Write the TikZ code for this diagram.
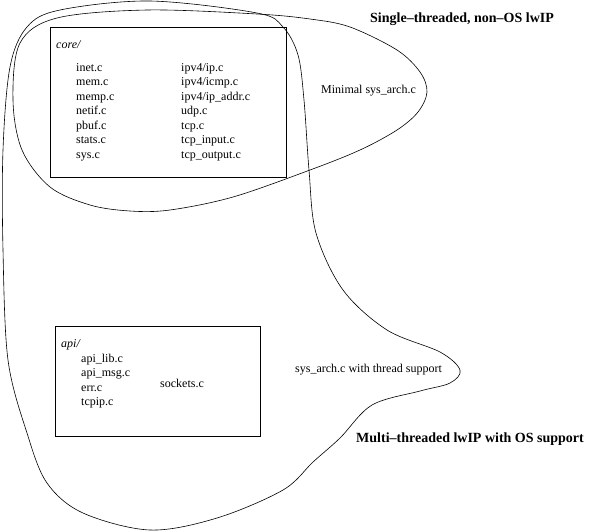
\documentclass[tikz,border=0pt]{standalone}
\usepackage{fontspec}
\setmainfont{Liberation Serif}
\begin{document}
\begin{tikzpicture}[x=1pt,y=-1pt,
  lbl/.style={inner sep=0pt,anchor=base west,font=\fontsize{12}{14}\selectfont},
  ttl/.style={inner sep=0pt,anchor=base west,font=\fontsize{14}{16}\selectfont\bfseries},
  dirbox/.style={draw,line width=0.8pt},
  region/.style={draw,line width=0.6pt}]
\useasboundingbox (0,0) rectangle (596,531);
% outer multi-threaded region
\draw[region] plot[smooth cycle,tension=0.55] coordinates {
 (150,1) (257,13) (283,27) (298,55) (304,100) (309,170) (316,233) (343,290)
 (387,330) (440,352) (460,370) (450,383) (420,391) (372,405) (340,438)
 (313,462) (283,490) (217,518) (150,530) (83,513) (47,483) (27,433)
 (8,360) (3,250) (3,150) (10,67) (27,27) (60,10)};
% inner single-threaded region
\draw[region] plot[smooth cycle,tension=0.55] coordinates {
 (147,10) (257,14) (310,19) (350,27) (397,50) (420,72) (427,92) (418,112)
 (397,130) (360,150) (310,170) (233,197) (170,210) (130,211) (90,205)
 (50,187) (22,150) (13,100) (20,43) (57,18)};
% boxes
\draw[dirbox] (50,27) rectangle (286,177);
\draw[dirbox] (55,326) rectangle (260,436);
% core texts
\node[lbl] (core) at (56,48) {\itshape core/};
\node[lbl] (c1) at (76,71) {inet.c};
\node[lbl] (c2) at (76,85.5) {mem.c};
\node[lbl] (c3) at (76,100) {memp.c};
\node[lbl] (c4) at (76,114.5) {netif.c};
\node[lbl] (c5) at (76,129) {pbuf.c};
\node[lbl] (c6) at (76,143.5) {stats.c};
\node[lbl] (c7) at (76,158) {sys.c};
\node[lbl] (d1) at (181,71) {ipv4/ip.c};
\node[lbl] (d2) at (181,85.5) {ipv4/icmp.c};
\node[lbl] (d3) at (181,100) {ipv4/ip\_addr.c};
\node[lbl] (d4) at (181,114.5) {udp.c};
\node[lbl] (d5) at (181,129) {tcp.c};
\node[lbl] (d6) at (181,143.5) {tcp\_input.c};
\node[lbl] (d7) at (181,158) {tcp\_output.c};
% api texts
\node[lbl] (api) at (61,347) {\itshape api/};
\node[lbl] (a1) at (81,362) {api\_lib.c};
\node[lbl] (a2) at (81,376.5) {api\_msg.c};
\node[lbl] (a3) at (81,391) {err.c};
\node[lbl] (a4) at (81,405.5) {tcpip.c};
\node[lbl] (a5) at (160,387) {sockets.c};
% region labels
\node[ttl] (t1) at (370,22.5) {Single--threaded, non--OS lwIP};
\node[lbl] (m1) at (321,93.5) {Minimal sys\_arch.c};
\node[lbl] (m2) at (295,372.5) {sys\_arch.c with thread support};
\node[ttl] (t2) at (356,442) {Multi--threaded lwIP with OS support};
\end{tikzpicture}
\end{document}
